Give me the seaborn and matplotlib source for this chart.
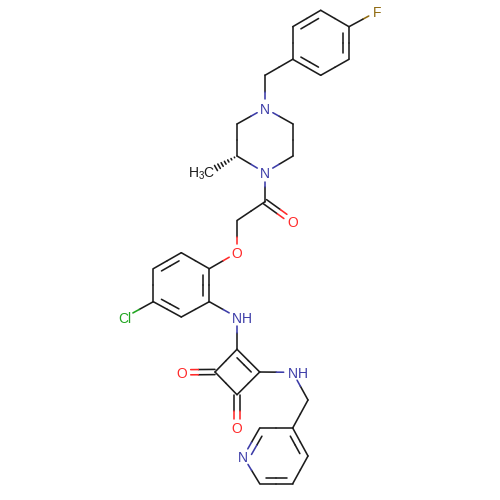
import numpy as np
import pandas as pd
import matplotlib
matplotlib.use('Agg')
import matplotlib.pyplot as plt
import seaborn as sns

sns.set_theme(style='white')
plt.rcParams['font.family'] = ['Liberation Sans', 'DejaVu Sans']
plt.rcParams['mathtext.default'] = 'regular'

# atoms
atom_names = ['F', 'a1', 'a2', 'a3', 'a4', 'a5', 'a6', 'ch2a', 'N1', 'p1', 'p2', 'N2', 'p3', 'p4', 'me',
              'co', 'O1', 'ch2b', 'O2', 'b1', 'b2', 'b3', 'b4', 'b5', 'b6', 'Cl', 'NH1',
              's1', 's2', 's3', 's4', 'O3', 'O4', 'NH2', 'ch2c', 'r1', 'r2', 'N3', 'r3', 'r4', 'r5']
atom_x = [376.7, 349, 320.7, 292.7, 292.7, 320.7, 349, 265, 265, 237, 237, 265, 293, 293, 202,
          265, 292.7, 237, 237, 209.3, 181.3, 153.3, 153.3, 181.3, 209.3, 125, 237,
          237, 259.7, 237, 215, 181.7, 237, 292.7, 308, 292.7, 259.7, 243.3, 259.7, 292.7, 308]
atom_y = [11.7, 26.7, 10.3, 26.7, 59.3, 75.3, 59.3, 75.3, 108.3, 124, 156, 172.7, 156, 124, 173,
          201.7, 221.7, 220.5, 252.7, 268.7, 252.7, 268.7, 301.7, 317, 301.7, 317.3, 317.3,
          349.3, 372, 394.7, 372, 372.3, 427.7, 372.3, 400, 428, 428, 456.7, 483.7, 483.7, 456]

# visible labels: atom -> text
labels = {'F': 'F', 'N1': 'N', 'N2': 'N', 'O1': 'O', 'O2': 'O', 'O3': 'O', 'O4': 'O',
          'Cl': 'Cl', 'NH1': 'NH', 'NH2': 'NH', 'N3': 'N'}
elements = {'F': 'F', 'N1': 'N', 'N2': 'N', 'O1': 'O', 'O2': 'O', 'O3': 'O', 'O4': 'O',
            'Cl': 'Cl', 'NH1': 'N', 'NH2': 'N', 'N3': 'N'}
colors = {'C': '#1c1c1c', 'N': '#3c3ca8', 'O': '#ff2a2a', 'F': '#8f6a10', 'Cl': '#1fa51f'}

single_bonds = [('F', 'a1'), ('a4', 'ch2a'), ('ch2a', 'N1'), ('N1', 'p1'), ('p1', 'p2'), ('p2', 'N2'),
                ('N2', 'p3'), ('p3', 'p4'), ('p4', 'N1'), ('N2', 'co'), ('co', 'ch2b'), ('ch2b', 'O2'),
                ('O2', 'b1'), ('b1', 'b2'), ('b3', 'b4'), ('b5', 'b6'), ('b4', 'Cl'), ('b6', 'NH1'),
                ('NH1', 's1'), ('s2', 's3'), ('s3', 's4'), ('s4', 's1'), ('s2', 'NH2'), ('NH2', 'ch2c'),
                ('ch2c', 'r1'), ('r1', 'r2'), ('N3', 'r3'), ('r4', 'r5'), ('a1', 'a2'), ('a3', 'a4'), ('a5', 'a6')]
ring_doubles = [('a2', 'a3'), ('a4', 'a5'), ('a6', 'a1'), ('b2', 'b3'), ('b4', 'b5'), ('b6', 'b1'),
                ('s1', 's2'), ('r1', 'r5'), ('r2', 'N3'), ('r3', 'r4')]
ring_centers = {'a': (320.8, 43), 'b': (181.3, 285), 's': (237, 372), 'r': (276, 456)}
exo_doubles = [('co', 'O1'), ('s4', 'O3'), ('s3', 'O4')]

pos = {n: np.array([x, y]) for n, x, y in zip(atom_names, atom_x, atom_y)}
gap = 9.0
segs = []


def add_seg(p, q, col):
    sid = len(segs)
    segs.append({'sid': sid, 'x': p[0], 'y': p[1], 'col': col})
    segs.append({'sid': sid, 'x': q[0], 'y': q[1], 'col': col})


def add_bond(a, b, p=None, q=None):
    # half coloured bond, stops short of a label
    p = pos[a] if p is None else p
    q = pos[b] if q is None else q
    d = (q - p) / np.linalg.norm(q - p)
    mid = (p + q) / 2
    p2 = p + d * gap if a in labels else p
    q2 = q - d * gap if b in labels else q
    add_seg(p2, mid, colors[elements.get(a, 'C')])
    add_seg(mid, q2, colors[elements.get(b, 'C')])


for a, b in single_bonds + ring_doubles:
    add_bond(a, b)

for a, b in ring_doubles:
    key = 'r' if a in ('N3', 'r1', 'r2', 'r3') else a[0]
    c = np.array(ring_centers[key])
    p, q = pos[a], pos[b]
    d = (q - p) / np.linalg.norm(q - p)
    n = np.array([-d[1], d[0]])
    if np.dot(c - (p + q) / 2, n) < 0:
        n = -n
    off = 6.0
    trim = 6.0
    p2 = p + n * off + d * trim
    q2 = q + n * off - d * trim
    mid = (p2 + q2) / 2
    add_seg(p2, mid, colors[elements.get(a, 'C')])
    add_seg(mid, q2, colors[elements.get(b, 'C')])

for a, b in exo_doubles:
    p, q = pos[a], pos[b]
    d = (q - p) / np.linalg.norm(q - p)
    n = np.array([-d[1], d[0]])
    for s in (-1, 1):
        add_bond(a, b, p + n * s * 2.6, q + n * s * 2.6)

# hashed bond to the methyl group, stops short of the label
start, end = pos['p2'], pos['me'] + np.array([14, -5])
d = (end - start) / np.linalg.norm(end - start)
n = np.array([-d[1], d[0]])
for t in np.linspace(0.12, 1.0, 7):
    c = start + (end - start) * t
    add_seg(c - n * 3.0 * t, c + n * 3.0 * t, colors['C'])

df = pd.DataFrame(segs)

fig = plt.figure(figsize=(5, 5), dpi=100)
ax = fig.add_axes([0, 0, 1, 1])
sns.lineplot(data=df, x='x', y='y', units='sid', estimator=None, sort=False, hue='col',
             palette={c: c for c in df['col'].unique()}, legend=False, linewidth=1.15, ax=ax)
ax.set_xlim(0, 500)
ax.set_ylim(500, 0)
ax.axis('off')

for name, text in labels.items():
    x, y = pos[name]
    col = colors[elements[name]]
    if text == 'NH':
        ax.text(x, y, 'N', color=col, fontsize=10, ha='center', va='center_baseline')
        ax.text(x + 10, y, 'H', color=col, fontsize=10, ha='center', va='center_baseline')
    else:
        ax.text(x, y, text, color=col, fontsize=10, ha='center', va='center_baseline')
ax.text(pos['me'][0], pos['me'][1] + 0.5, 'H$_3$C', color=colors['C'], fontsize=10, ha='center', va='center')

fig.savefig('out.png', dpi=100, facecolor='white')
